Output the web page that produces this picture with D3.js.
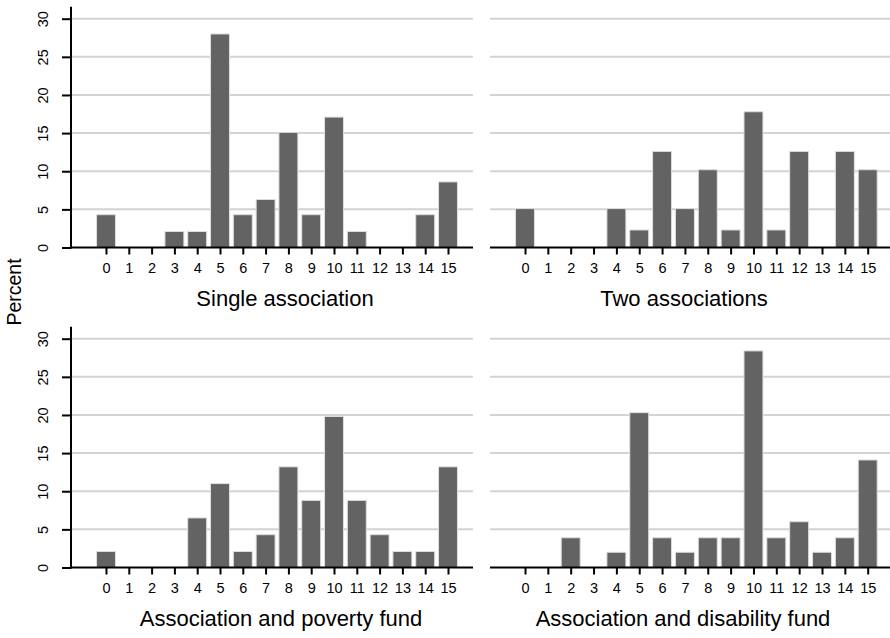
<!DOCTYPE html>
<html>
<head>
<meta charset="utf-8">
<script src="https://cdn.jsdelivr.net/npm/d3@7"></script>
<style>
  body { margin: 0; background: #fff; }
  text { font-family: "Liberation Sans", Arial, sans-serif; fill: #000; }
</style>
</head>
<body>
<svg id="chart" width="890" height="638"></svg>
<script>
// categories on the x axis
var categories = [0, 1, 2, 3, 4, 5, 6, 7, 8, 9, 10, 11, 12, 13, 14, 15];
var yTicks = [0, 5, 10, 15, 20, 25, 30];

// percent per category, one array per panel
var singleAssoc  = [4.3, 0, 0, 2.1, 2.1, 28, 4.3, 6.3, 15.1, 4.3, 17.1, 2.1, 0, 0, 4.3, 8.6];
var twoAssoc     = [5.1, 0, 0, 0, 5.1, 2.3, 12.6, 5.1, 10.2, 2.3, 17.8, 2.3, 12.6, 0, 12.6, 10.2];
var assocPoverty = [2.1, 0, 0, 0, 6.5, 11.0, 2.1, 4.3, 13.2, 8.8, 19.8, 8.8, 4.3, 2.1, 2.1, 13.2];
var assocDisab   = [0, 0, 3.9, 0, 2.0, 20.3, 3.9, 2.0, 3.9, 3.9, 28.4, 3.9, 6.0, 2.0, 3.9, 14.1];

var titles = ["Single association", "Two associations", "Association and poverty fund", "Association and disability fund"];
var series = [singleAssoc, twoAssoc, assocPoverty, assocDisab];

var svg = d3.select("#chart");

// panel geometry
var panels = [
  { x0: 106, x1: 448, lineL: 71, lineR: 473, y0: 247.5, y30: 18.7, yAxis: true, titleX: 285 },
  { x0: 525, x1: 867.7, lineL: 490, lineR: 890, y0: 247.5, y30: 18.7, yAxis: false, titleX: 684 },
  { x0: 106, x1: 448, lineL: 71, lineR: 473, y0: 567.5, y30: 338.7, yAxis: true, titleX: 281 },
  { x0: 525, x1: 867.7, lineL: 490, lineR: 890, y0: 567.5, y30: 338.7, yAxis: false, titleX: 683 }
];

panels.forEach(function(p, i) {
  var g = svg.append("g");
  var x = d3.scaleLinear().domain([0, 15]).range([p.x0, p.x1]);
  var y = d3.scaleLinear().domain([0, 30]).range([p.y0, p.y30]);
  var bw = (x(1) - x(0)) * 0.83;

  // gridlines
  g.selectAll("line.grid").data(yTicks.slice(1)).enter().append("line")
    .attr("x1", p.lineL).attr("x2", p.lineR)
    .attr("y1", d => y(d)).attr("y2", d => y(d))
    .attr("stroke", "#d3d3d3").attr("stroke-width", 2);

  // bars
  g.selectAll("rect").data(series[i]).enter().append("rect")
    .attr("x", (d, k) => x(categories[k]) - bw / 2)
    .attr("y", d => y(d))
    .attr("width", bw)
    .attr("height", d => y(0) - y(d))
    .attr("fill", "#636363")
    .attr("stroke", d => d > 0 ? "#dedede" : "none")
    .attr("stroke-width", 1);

  // x axis
  var xAxis = d3.axisBottom(x).tickValues(categories).tickSize(7).tickPadding(8).tickFormat(d3.format("d"));
  var xa = g.append("g").attr("transform", "translate(0," + p.y0 + ")").call(xAxis);
  xa.select(".domain").remove();
  xa.selectAll(".tick line").attr("stroke", "#000").attr("stroke-width", 2);
  xa.selectAll(".tick text").style("font-size", "14.5px");
  g.append("line").attr("x1", p.lineL).attr("x2", p.lineR).attr("y1", p.y0).attr("y2", p.y0)
    .attr("stroke", "#000").attr("stroke-width", 2);

  // y axis
  if (p.yAxis) {
    var yAxis = d3.axisLeft(y).tickValues(yTicks).tickSize(9).tickPadding(0).tickFormat(d3.format("d"));
    var ya = g.append("g").attr("transform", "translate(" + p.lineL + ",0)").call(yAxis);
    ya.select(".domain").remove();
    ya.selectAll(".tick line").attr("stroke", "#000").attr("stroke-width", 2);
    ya.selectAll(".tick text")
      .style("font-size", "14.5px")
      .attr("text-anchor", "middle").attr("dy", null).attr("x", null)
      .attr("transform", "translate(-23,0) rotate(-90)");
    g.append("line").attr("x1", p.lineL).attr("x2", p.lineL).attr("y1", p.y30 - 12).attr("y2", p.y0 + 1)
      .attr("stroke", "#000").attr("stroke-width", 2);
  }

  // panel title
  g.append("text").attr("x", p.titleX).attr("y", p.y0 + 58)
    .attr("text-anchor", "middle").style("font-size", "22px").text(titles[i]);
});

// shared y title
svg.append("text").attr("transform", "translate(21,292) rotate(-90)")
  .attr("text-anchor", "middle").style("font-size", "19.5px").text("Percent");
</script>
</body>
</html>
